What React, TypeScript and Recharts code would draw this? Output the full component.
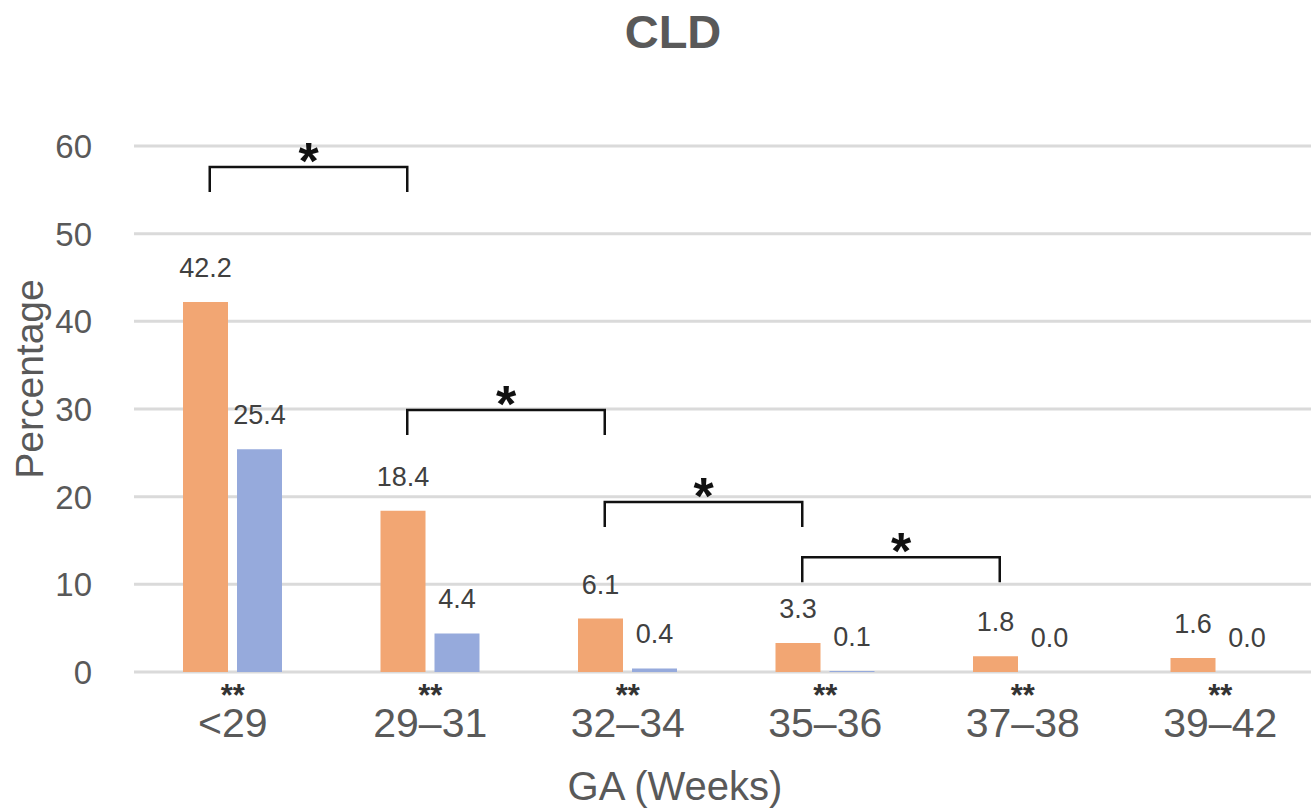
import React from "react";
import {
  BarChart,
  Bar,
  XAxis,
  YAxis,
  CartesianGrid,
  LabelList,
  ReferenceLine,
} from "recharts";

const categories = ["<29", "29–31", "32–34", "35–36", "37–38", "39–42"];
const orangeValues = [42.2, 18.4, 6.1, 3.3, 1.8, 1.6];
const blueValues = [25.4, 4.4, 0.4, 0.1, 0.0, 0.0];
const tickMarks = ["**", "**", "**", "**", "**", "**"];
const yTicks = [0, 10, 20, 30, 40, 50, 60];

// brackets between neighbouring GA groups, level = height of the bracket top (%)
const bracketFrom = ["<29", "29–31", "32–34", "35–36"];
const bracketTo = ["29–31", "32–34", "35–36", "37–38"];
const bracketLevel = [57.6, 29.9, 19.4, 13.1];
const bracketMark = ["*", "*", "*", "*"];

const data = categories.map((ga, i) => ({
  ga,
  orange: orangeValues[i],
  blue: blueValues[i],
}));

const FONT = '"Liberation Sans", Arial, sans-serif';
const TEXT = "#595959";
const BRACKET_SHIFT = -23;
const LEG = 25;

// keep zero bars in the layout so their "0.0" labels still get drawn
const keepZero = (value: any) => (Number(value) === 0 ? 0.01 : 0);

const GaTick = (props: any) => {
  const { x, y, payload, index } = props;
  const i = payload?.index ?? index;
  return (
    <g fontFamily={FONT}>
      <text x={x} y={y + 34} textAnchor="middle" fontSize={31} fontWeight="bold" fill="#333">
        {tickMarks[i]}
      </text>
      <text x={x} y={y + 65} textAnchor="middle" fontSize={41} fill={TEXT}>
        {payload.value}
      </text>
    </g>
  );
};

const PctTick = (props: any) => {
  const { x, y, payload } = props;
  return (
    <text x={x} y={y} dy="0.36em" textAnchor="end" fontSize={33} fill={TEXT} fontFamily={FONT}>
      {payload.value}
    </text>
  );
};

const ValueLabel = (props: any) => {
  const { x, y, width, height, value } = props;
  const top = Math.min(Number(y), Number(y) + Number(height));
  return (
    <text
      x={Number(x) + Number(width) / 2}
      y={top - 25}
      textAnchor="middle"
      fontSize={27}
      fill="#404040"
      fontFamily={FONT}
    >
      {Number(value).toFixed(1)}
    </text>
  );
};

const Bracket = (props: any) => {
  const { x1, y1, x2, mark } = props;
  const l = x1 + BRACKET_SHIFT;
  const r = x2 + BRACKET_SHIFT;
  return (
    <g>
      <path
        d={`M${l},${y1 + LEG} V${y1} H${r} V${y1 + LEG}`}
        fill="none"
        stroke="#111"
        strokeWidth={2.5}
      />
      <text
        x={(l + r) / 2}
        y={y1 + 12}
        textAnchor="middle"
        fontSize={52}
        fontWeight="bold"
        fill="#111"
        fontFamily={FONT}
      >
        {mark}
      </text>
    </g>
  );
};

export default function App() {
  return (
    <div
      style={{
        position: "absolute",
        left: 0,
        top: 0,
        width: 1311,
        height: 808,
        overflow: "hidden",
        background: "#fff",
        fontFamily: FONT,
      }}
    >
      <div
        style={{
          position: "absolute",
          left: 0,
          top: 8,
          width: 1346,
          textAlign: "center",
          fontSize: 47,
          lineHeight: 1,
          fontWeight: "bold",
          color: TEXT,
        }}
      >
        CLD
      </div>
      <BarChart
        width={1320}
        height={808}
        data={data}
        margin={{ top: 146, right: 1, bottom: 0, left: 0 }}
        barSize={45}
        barGap={9}
      >
        <CartesianGrid vertical={false} stroke="#dadada" strokeWidth={3} />
        <XAxis
          dataKey="ga"
          height={136}
          axisLine={false}
          tickLine={false}
          tickSize={0}
          tickMargin={0}
          interval={0}
          tick={<GaTick />}
          label={{
            content: (p: any) => {
              const vb = p.viewBox;
              return (
                <text
                  x={vb.x + 541}
                  y={vb.y + 128}
                  textAnchor="middle"
                  fontSize={40}
                  fill={TEXT}
                  fontFamily={FONT}
                >
                  GA (Weeks)
                </text>
              );
            },
          }}
        />
        <YAxis
          width={134}
          domain={[0, 60]}
          ticks={yTicks}
          axisLine={false}
          tickLine={false}
          tickSize={0}
          tickMargin={42}
          tick={<PctTick />}
          label={{
            content: (p: any) => {
              const vb = p.viewBox;
              return (
                <text
                  transform={`translate(${vb.x + 43}, ${vb.y + vb.height / 2 - 30}) rotate(-90)`}
                  textAnchor="middle"
                  fontSize={39}
                  fill={TEXT}
                  fontFamily={FONT}
                >
                  Percentage
                </text>
              );
            },
          }}
        />
        <Bar dataKey="orange" fill="#F2A673" isAnimationActive={false}>
          <LabelList dataKey="orange" content={<ValueLabel />} />
        </Bar>
        <Bar dataKey="blue" fill="#96AADC" minPointSize={keepZero} isAnimationActive={false}>
          <LabelList dataKey="blue" content={<ValueLabel />} />
        </Bar>
        {bracketLevel.map((level, i) => (
          <ReferenceLine
            key={i}
            ifOverflow="visible"
            segment={[
              { x: bracketFrom[i], y: level },
              { x: bracketTo[i], y: level },
            ]}
            shape={(p: any) => <Bracket {...p} mark={bracketMark[i]} />}
          />
        ))}
      </BarChart>
    </div>
  );
}
